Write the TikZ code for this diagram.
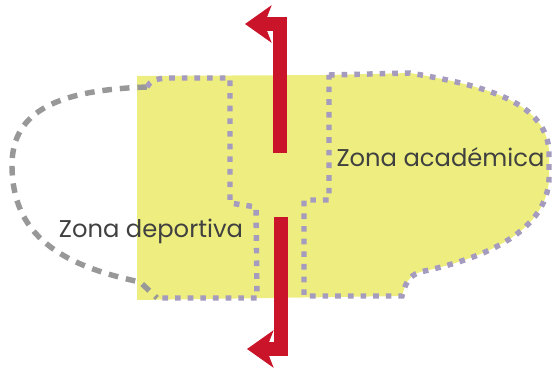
\documentclass[tikz,border=0pt]{standalone}
\usepackage{fontspec}
\setmainfont{Poppins}
\definecolor{zoneyellow}{RGB}{238,238,128}
\definecolor{limitgray}{RGB}{152,152,152}
\definecolor{limitlilac}{RGB}{165,155,190}
\definecolor{flowred}{RGB}{202,20,42}
\usetikzlibrary{arrows.meta}

\begin{document}
\begin{tikzpicture}[x=0.02cm, y=-0.02cm,
      contour/.style={draw=limitgray, line width=3.1pt, dash pattern=on 5.5pt off 4.5pt},
      zoneedge/.style={draw=limitlilac, line width=3.1pt, dash pattern=on 3.2pt off 4pt},
      zonetext/.style={font=\fontsize{13.8}{16}\selectfont, text=black!75, inner sep=0pt, anchor=base},
      flow/.style={-{Stealth[length=15pt, width=21pt, inset=4pt]}, draw=flowred, line width=8.5pt}]
    \useasboundingbox (0,0) rectangle (554,371);
    \fill[zoneyellow] (137,76) -- (329,75) -- (410,73) .. controls (480,85) and (545,100) .. (549,150)
      -- (549,180) .. controls (546,225) and (500,255) .. (420,272)
      .. controls (408,276) and (405,285) .. (402,296) -- (137,300) -- cycle;
    \draw[contour] (147,87) .. controls (60,90) and (12,110) .. (12,165)
      .. controls (12,235) and (60,265) .. (140,282) -- (157,298);
    \draw[zoneedge] (147,87) .. controls (152,80) .. (165,78) -- (230,78) -- (230,203)
      -- (256,207) -- (257,298) -- (157,298);
    \draw[zoneedge] (329,75) -- (410,73) .. controls (480,85) and (545,100) .. (549,150)
      -- (549,180) .. controls (546,225) and (500,255) .. (420,272)
      .. controls (408,276) and (405,285) .. (402,296) -- (304,296) -- (304,200) -- (329,200) -- cycle;
    \coordinate (northstart) at (280,153);
    \coordinate (northend) at (245,24);
    \coordinate (southstart) at (281,217);
    \coordinate (southend) at (247,349);
    \draw[flow] (northstart) |- (northend);
    \draw[flow] (southstart) |- (southend);
    \node[zonetext] (academica) at (440.5,167) {Zona académica};
    \node[zonetext] (deportiva) at (151,237) {Zona deportiva};
  \end{tikzpicture}
\end{document}
